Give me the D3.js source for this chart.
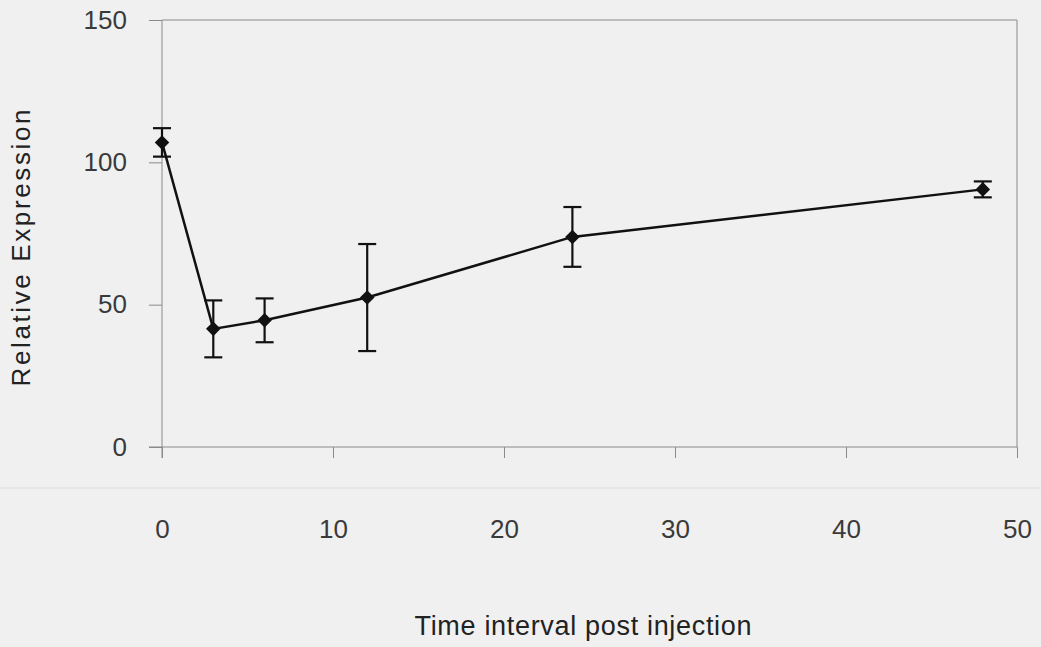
<!DOCTYPE html>
<html>
<head>
<script src="https://d3js.org/d3.v7.min.js"></script>
<style>
body {margin:0; background:#f0f0f0;}
svg {display:block; font-family: "Liberation Sans", Arial, sans-serif;}
</style>
</head>
<body>
<svg width="1041" height="647"></svg>
<script>
// data
var hours = [0, 3, 6, 12, 24, 48];
var expression = [107, 41.5, 44.5, 52.5, 73.8, 90.5];
var errors = [5, 10, 7.7, 18.8, 10.5, 2.8];
var xTicks = [0, 10, 20, 30, 40, 50];
var yTicks = [0, 50, 100, 150];

function draw() {
  var left = 162, right = 1017, upper = 20, lower = 447;
  var svg = d3.select("svg");

  var x = d3.scaleLinear().domain([0, 50]).range([left, right]);
  var y = d3.scaleLinear().domain([0, 150]).range([lower, upper]);

  // faint scan line
  svg.append("line")
    .attr("x1", 0).attr("x2", 1041).attr("y1", 488).attr("y2", 488)
    .attr("stroke", "#dcdcdc").attr("stroke-width", 1);

  // frame (top and right)
  svg.append("path")
    .attr("d", "M" + left + "," + upper + "H" + right + "V" + lower)
    .attr("fill", "none").attr("stroke", "#8a8a8a").attr("stroke-width", 1);

  var yAxis = svg.append("g")
    .attr("transform", "translate(" + left + ",0)")
    .call(d3.axisLeft(y).tickValues(yTicks).tickSize(13).tickPadding(22));
  var xAxis = svg.append("g")
    .attr("transform", "translate(0," + lower + ")")
    .call(d3.axisBottom(x).tickValues(xTicks).tickSize(11).tickPadding(62));

  [xAxis, yAxis].forEach(function(g) {
    g.select(".domain").attr("stroke", "#8a8a8a");
    g.selectAll(".tick line").attr("stroke", "#8a8a8a");
    g.selectAll(".tick text").attr("fill", "#3a3a3a").style("font-size", "26px")
      .style("font-family", "'Liberation Sans', Arial, sans-serif");
  });
  // left axis runs down past 0 by the tick length
  yAxis.select(".domain").attr("d", "M0," + upper + "V" + (lower + 11));
  xAxis.select(".domain").attr("d", "M" + (left - 13) + ",0H" + right);

  var pts = hours.map(function(h, i) { return {h: h, v: expression[i], e: errors[i]}; });

  svg.append("path")
    .datum(pts)
    .attr("fill", "none").attr("stroke", "#111").attr("stroke-width", 2.5)
    .attr("d", d3.line().x(function(d) { return x(d.h); }).y(function(d) { return y(d.v); }));

  var bars = svg.append("g").attr("stroke", "#111").attr("stroke-width", 2.2);
  pts.forEach(function(d) {
    var cx = x(d.h);
    bars.append("line").attr("x1", cx).attr("x2", cx).attr("y1", y(d.v + d.e)).attr("y2", y(d.v - d.e));
    bars.append("line").attr("x1", cx - 9).attr("x2", cx + 9).attr("y1", y(d.v + d.e)).attr("y2", y(d.v + d.e));
    bars.append("line").attr("x1", cx - 9).attr("x2", cx + 9).attr("y1", y(d.v - d.e)).attr("y2", y(d.v - d.e));
  });

  svg.append("g").selectAll("path")
    .data(pts).enter().append("path")
    .attr("d", d3.symbol().type(d3.symbolDiamond2).size(135))
    .attr("transform", function(d) { return "translate(" + x(d.h) + "," + y(d.v) + ")"; })
    .attr("fill", "#111");

  svg.append("text")
    .attr("x", 583).attr("y", 635)
    .attr("text-anchor", "middle")
    .attr("textLength", 337)
    .style("font-size", "27px").attr("fill", "#222")
    .text("Time interval post injection");

  svg.append("text")
    .attr("transform", "translate(30,248) rotate(-90)")
    .attr("text-anchor", "middle")
    .attr("textLength", 277)
    .style("font-size", "26px").attr("fill", "#222")
    .text("Relative Expression");
}
draw();
</script>
</body>
</html>
